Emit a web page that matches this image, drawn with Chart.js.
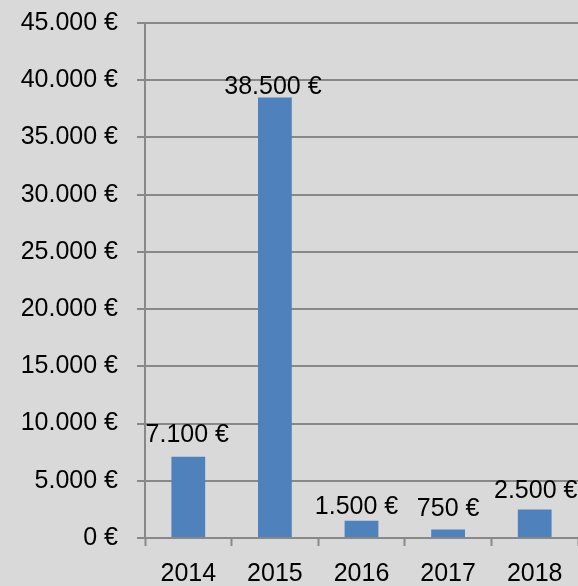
<!DOCTYPE html>
<html>
<head>
<meta charset="utf-8">
<script src="https://cdn.jsdelivr.net/npm/chart.js@4/dist/chart.umd.min.js"></script>
<style>
html,body{margin:0;padding:0;background:#D9D9D9;}
#wrap{width:578px;height:586px;position:relative;}
</style>
</head>
<body>
<div id="wrap"><canvas id="c" width="578" height="586"></canvas></div>
<script>
const categories = ["2014", "2015", "2016", "2017", "2018"];
const values = [7100, 38500, 1500, 750, 2500];
const yTicks = [0, 5000, 10000, 15000, 20000, 25000, 30000, 35000, 40000, 45000];

function euro(v) {
  const s = String(Math.round(v)).replace(/\B(?=(\d{3})+(?!\d))/g, ".");
  return s + " €";
}

const FONT = "'Liberation Sans', Arial, sans-serif";

const bgPlugin = {
  id: "bg",
  beforeDraw(chart) {
    const ctx = chart.ctx;
    ctx.save();
    ctx.fillStyle = "#D9D9D9";
    ctx.fillRect(0, 0, chart.width, chart.height);
    ctx.restore();
  }
};

const labelPlugin = {
  id: "barLabels",
  afterDatasetsDraw(chart, args, opts) {
    const ctx = chart.ctx;
    const meta = chart.getDatasetMeta(0);
    ctx.save();
    ctx.font = "25px " + FONT;
    ctx.fillStyle = "#000";
    ctx.textAlign = "center";
    ctx.textBaseline = "middle";
    meta.data.forEach((bar, i) => {
      ctx.fillText(euro(values[i]), bar.x + opts.shifts[i], bar.y - opts.offsets[i]);
    });
    ctx.restore();
  }
};

new Chart(document.getElementById("c"), {
  type: "bar",
  data: {
    labels: categories,
    datasets: [{
      data: values,
      backgroundColor: "#4F81BD",
      borderWidth: 0,
      barPercentage: 0.39,
      categoryPercentage: 1.0
    }]
  },
  options: {
    responsive: false,
    animation: false,
    devicePixelRatio: 1,
    layout: { padding: { top: 23, right: 0, left: 0, bottom: 0 } },
    plugins: {
      legend: { display: false },
      tooltip: { enabled: false },
      barLabels: {
        offsets: [22, 10, 14, 20, 18],
        shifts: [-1, -2, -5, 0, 1]
      }
    },
    scales: {
      x: {
        afterFit(scale) { scale.height = 48; scale.paddingLeft = 0; scale.paddingRight = 0; },
        grid: {
          display: true,
          drawOnChartArea: false,
          drawTicks: true,
          tickLength: 8,
          tickColor: "#888888",
          tickWidth: 2,
          offset: true
        },
        border: { display: true, color: "#888888", width: 2 },
        ticks: {
          color: "#000",
          font: { family: FONT, size: 25, lineHeight: 1 },
          padding: 16,
          maxRotation: 0
        }
      },
      y: {
        min: 0,
        max: 45000,
        afterBuildTicks(scale) {
          scale.ticks = yTicks.map(v => ({ value: v }));
        },
        afterFit(scale) { scale.width = 145; scale.paddingTop = 0; scale.paddingBottom = 0; },
        grid: {
          color: "#888888",
          lineWidth: 2,
          drawTicks: true,
          tickLength: 8,
          tickColor: "#888888"
        },
        border: { display: true, color: "#888888", width: 2 },
        ticks: {
          color: "#000",
          font: { family: FONT, size: 25, lineHeight: 1 },
          padding: 19,
          callback: (v) => euro(v)
        }
      }
    }
  },
  plugins: [bgPlugin, labelPlugin]
});
</script>
</body>
</html>
